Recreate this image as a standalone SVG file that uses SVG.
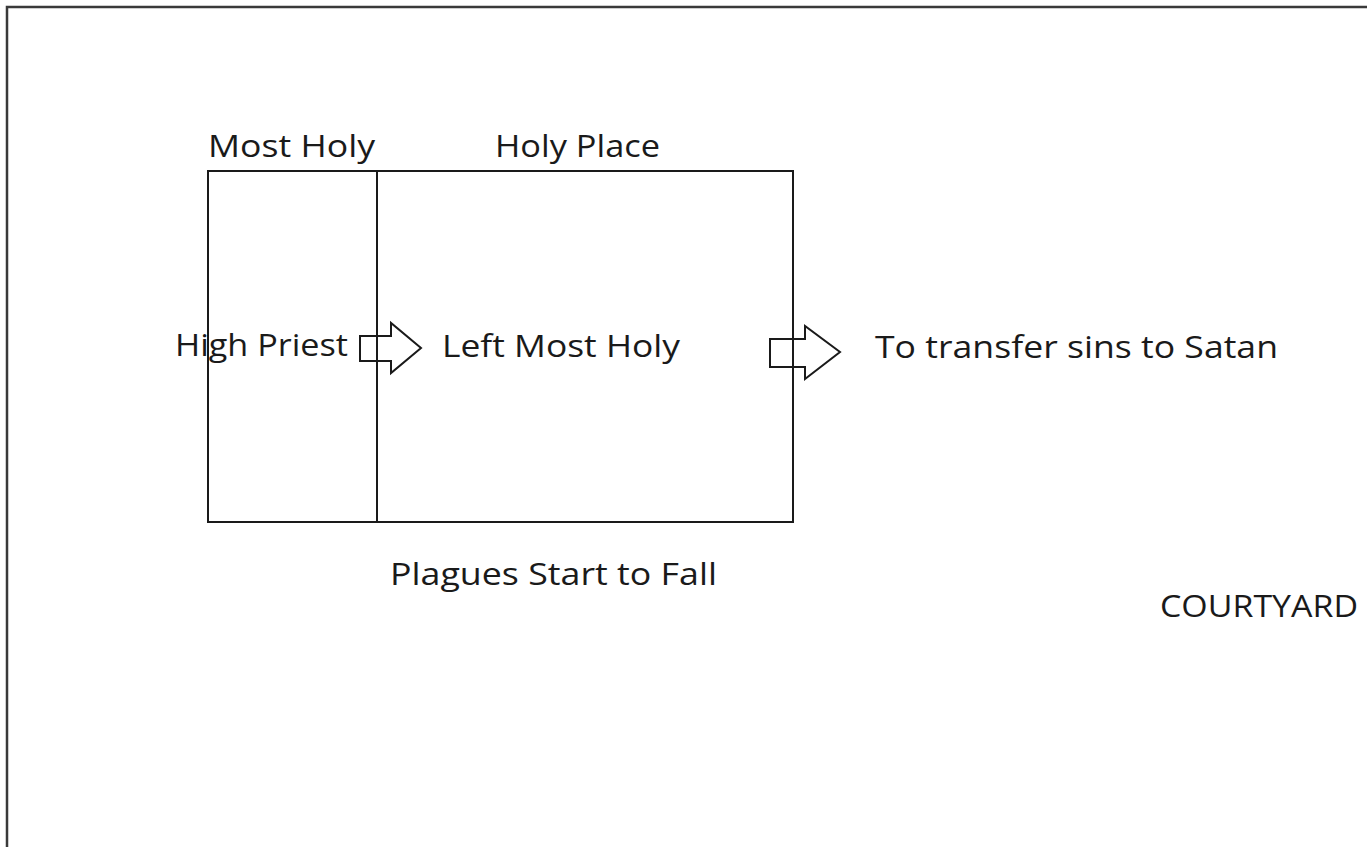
<svg xmlns="http://www.w3.org/2000/svg" width="1367" height="847" viewBox="0 0 1367 847">
  <style>
    .lbl { font-family: "Open Sans", "Noto Sans", "Liberation Sans", sans-serif; font-size: 31px; fill: #1a1a1a; }
    .box { fill: none; stroke: #1a1a1a; stroke-width: 2; }
    .arrow { fill: #ffffff; stroke: #1a1a1a; stroke-width: 2; stroke-linejoin: miter; }
  </style>
  <rect width="1367" height="847" fill="#ffffff"/>
  <g id="courtyard">
    <rect x="7" y="7" width="1400" height="900" fill="none" stroke="#3a3a3a" stroke-width="2.5"/>
    <text class="lbl" x="1160" y="617" textLength="198" lengthAdjust="spacingAndGlyphs">COURTYARD</text>
  </g>
  <g id="sanctuary">
    <rect class="box" x="208" y="171" width="585" height="351"/>
  </g>
  <g id="most-holy">
    <line class="box" x1="377" y1="171" x2="377" y2="522"/>
    <text class="lbl" x="208" y="157" textLength="167" lengthAdjust="spacingAndGlyphs">Most Holy</text>
    <text class="lbl" x="175" y="356" textLength="173" lengthAdjust="spacingAndGlyphs">High Priest</text>
  </g>
  <g id="holy-place">
    <text class="lbl" x="495" y="157" textLength="165" lengthAdjust="spacingAndGlyphs">Holy Place</text>
    <text class="lbl" x="442" y="357" textLength="238" lengthAdjust="spacingAndGlyphs">Left Most Holy</text>
    <text class="lbl" x="390" y="585" textLength="327" lengthAdjust="spacingAndGlyphs">Plagues Start to Fall</text>
  </g>
  <g id="satan">
    <text class="lbl" x="875" y="358" textLength="403" lengthAdjust="spacingAndGlyphs">To transfer sins to Satan</text>
  </g>
  <g id="connectors">
    <polygon class="arrow" points="360,336 391,336 391,323 421,348 391,373 391,361 360,361"/>
    <line class="box" x1="377" y1="330" x2="377" y2="370"/>
    <polygon class="arrow" points="770,339 805,339 805,326 840,352 805,379 805,367 770,367"/>
    <line class="box" x1="793" y1="330" x2="793" y2="375"/>
  </g>
</svg>
